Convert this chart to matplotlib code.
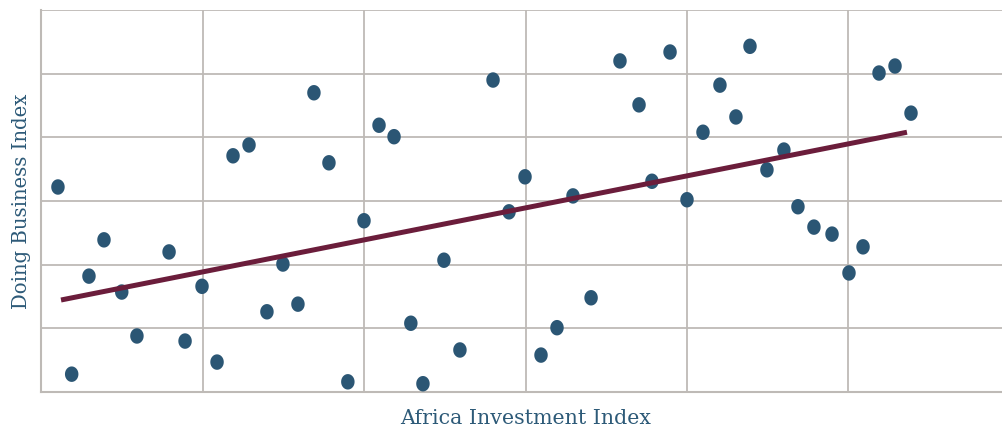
import numpy as np
import matplotlib
matplotlib.use("Agg")
import matplotlib.pyplot as plt
from matplotlib.path import Path

# Data
africa_investment = [1.05, 1.9, 2.97, 3.9, 5.0, 5.94, 7.93, 8.92, 9.97, 10.9,
                     11.89, 12.88, 13.99, 14.98, 15.91, 16.9, 17.83, 19.0, 20.0, 20.93,
                     21.86, 22.9, 23.65, 24.95, 25.94, 27.99, 28.98, 29.97, 30.96, 31.95,
                     32.94, 34.06, 35.85, 37.03, 37.83, 38.95, 40.0, 40.99, 42.04, 43.03,
                     43.9, 44.95, 46.0, 46.87, 47.86, 48.98, 50.03, 50.9, 51.89, 52.88, 53.87]
doing_business = [32.2, 2.8, 18.2, 23.9, 15.7, 8.8, 22.0, 8.0, 16.6, 4.7,
                  37.1, 38.8, 12.6, 20.1, 13.8, 47.0, 36.0, 1.6, 26.9, 41.9,
                  40.1, 10.8, 1.3, 20.7, 6.6, 49.0, 28.3, 33.8, 5.8, 10.1,
                  30.8, 14.8, 52.0, 45.1, 33.1, 53.4, 30.2, 40.8, 48.2, 43.2,
                  54.3, 34.9, 38.0, 29.1, 25.9, 24.8, 18.7, 22.8, 50.1, 51.2, 43.8]
trend_x = [1.24, 53.62]
trend_y = [14.45, 40.8]

x_label = "Africa Investment Index"
y_label = "Doing Business Index"

dot_color = "#2b5674"
line_color = "#6b1d3b"
grid_color = "#bebab6"
text_color = "#2d5a78"

W, H = 1002, 430
fig = plt.figure(figsize=(W / 100, H / 100), dpi=100)
ax = fig.add_axes([41 / W, 38 / H, (1010 - 41) / W, (392 - 10) / H])

# slightly tall ellipse marker
t = np.linspace(0, 2 * np.pi, 60)
ell = Path(np.column_stack([0.87 * np.cos(t), np.sin(t)]), closed=True)

ax.scatter(africa_investment, doing_business, marker=ell, s=124,
           color=dot_color, edgecolors="none", zorder=3)
ax.plot(trend_x, trend_y, color=line_color, lw=3.6, solid_capstyle="butt", zorder=4)

ax.set_xlim(0, 60)
ax.set_ylim(0, 60)
ax.set_xticks(np.arange(0, 61, 10))
ax.set_yticks(np.arange(0, 61, 10))
ax.tick_params(length=0, labelbottom=False, labelleft=False)
ax.grid(True, color=grid_color, lw=1.3, zorder=0)
ax.set_axisbelow(True)
for side in ["top", "right"]:
    ax.spines[side].set_visible(False)
for side in ["left", "bottom"]:
    ax.spines[side].set_color(grid_color)
    ax.spines[side].set_linewidth(1.5)

fig.text(526 / W, 1 - 419 / H, x_label, ha="center", va="center",
         family="DejaVu Serif", fontsize=14.8, color=text_color)
fig.text(22 / W, 1 - 201 / H, y_label, ha="center", va="center", rotation=90,
         family="DejaVu Serif", fontsize=14.1, color=text_color)

fig.savefig("out.png", dpi=100)
